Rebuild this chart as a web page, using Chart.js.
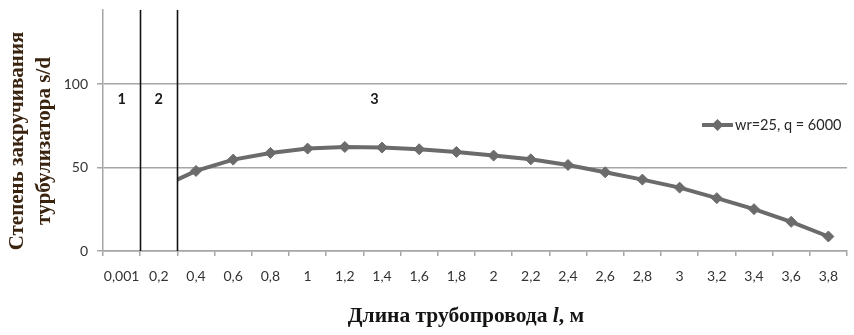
<!DOCTYPE html>
<html>
<head>
<meta charset="utf-8">
<script src="https://cdn.jsdelivr.net/npm/chart.js@4/dist/chart.umd.min.js"></script>
<style>
html,body{margin:0;padding:0;background:#fff;}
#wrap{width:854px;height:335px;position:relative;}
</style>
</head>
<body>
<div id="wrap"><canvas id="c" width="854" height="335"></canvas></div>
<script>
// ---- data ----
const categories = ['0,001','0,2','0,4','0,6','0,8','1','1,2','1,4','1,6','1,8','2','2,2','2,4','2,6','2,8','3','3,2','3,4','3,6','3,8'];
const seriesLabel = 'wr=25, q = 6000';
// value at 0,2 is hidden behind region boundary (only its segment beyond the boundary is visible)
const seriesValues = [null, 37.6, 48.0, 54.8, 58.8, 61.4, 62.4, 62.0, 61.0, 59.4, 57.2, 55.0, 51.6, 47.2, 42.8, 38.0, 31.7, 25.1, 17.5, 8.7];
const hiddenPoints = [0, 1];
const yTicks = [0, 50, 100];
const yMax = 144.5;
const regionBoundaries = [0.5, 1.5];
const regionLabels = ['1', '2', '3'];
const regionLabelX = [0, 1, 6.8];
const regionLabelY = 91;
const yTitleLines = ['Степень закручивания', 'турбулизатора s/d'];
const xTitleParts = [['Длина трубопровода ', 'bold'], ['l', 'italic bold'], [', м', 'bold']];

const GRAY = '#a6a6a6';
const LINE = '#6b6b6b';

const overlay = {
  id: 'overlay',
  beforeDatasetsDraw(chart) {
    const {ctx, chartArea, scales} = chart;
    const xb = scales.x.getPixelForValue(regionBoundaries[regionBoundaries.length - 1]);
    ctx.save();
    ctx.beginPath();
    ctx.rect(xb, chartArea.top - 20, chartArea.right - xb + 20, chartArea.bottom - chartArea.top + 40);
    ctx.clip();
  },
  afterDatasetsDraw(chart) {
    const {ctx, chartArea, scales} = chart;
    ctx.restore();
    // boundaries
    ctx.save();
    ctx.strokeStyle = '#111';
    ctx.lineWidth = 1.6;
    regionBoundaries.forEach(v => {
      const px = Math.round(scales.x.getPixelForValue(v)) + 0.5;
      ctx.beginPath();
      ctx.moveTo(px, chartArea.top);
      ctx.lineTo(px, chartArea.bottom);
      ctx.stroke();
    });
    // region labels
    ctx.fillStyle = '#1a1a1a';
    ctx.font = 'bold 14.5px Lato';
    ctx.textAlign = 'center';
    ctx.textBaseline = 'middle';
    regionLabels.forEach((t, i) => {
      ctx.fillText(t, scales.x.getPixelForValue(regionLabelX[i]), scales.y.getPixelForValue(regionLabelY));
    });
    // legend
    const lx = 702, ly = 125;
    ctx.strokeStyle = LINE;
    ctx.lineWidth = 4;
    ctx.beginPath();
    ctx.moveTo(lx, ly);
    ctx.lineTo(lx + 31, ly);
    ctx.stroke();
    ctx.fillStyle = LINE;
    ctx.beginPath();
    ctx.moveTo(lx + 15.5, ly - 6);
    ctx.lineTo(lx + 21.5, ly);
    ctx.lineTo(lx + 15.5, ly + 6);
    ctx.lineTo(lx + 9.5, ly);
    ctx.closePath();
    ctx.fill();
    ctx.fillStyle = '#262626';
    ctx.font = '14.5px Lato';
    ctx.textAlign = 'left';
    ctx.fillText(seriesLabel, lx + 33, ly);
    // y title
    ctx.save();
    ctx.translate(0, 141);
    ctx.rotate(-Math.PI / 2);
    ctx.fillStyle = '#3a2410';
    ctx.font = 'bold 21px "Liberation Serif"';
    ctx.textAlign = 'center';
    ctx.textBaseline = 'middle';
    ctx.fillText(yTitleLines[0], 0, 18);
    ctx.fillText(yTitleLines[1], 0, 45);
    ctx.restore();
    // x title
    ctx.fillStyle = '#141414';
    ctx.textBaseline = 'middle';
    ctx.textAlign = 'left';
    let total = 0;
    xTitleParts.forEach(([t, f]) => { ctx.font = f + ' 21.5px "Liberation Serif"'; total += ctx.measureText(t).width; });
    let x = 466 - total / 2;
    xTitleParts.forEach(([t, f]) => { ctx.font = f + ' 21.5px "Liberation Serif"'; ctx.fillText(t, x, 316); x += ctx.measureText(t).width; });
    ctx.restore();
  }
};

new Chart(document.getElementById('c'), {
  type: 'line',
  data: {
    labels: categories,
    datasets: [{
      label: seriesLabel,
      data: seriesValues,
      borderColor: LINE,
      backgroundColor: LINE,
      borderWidth: 4,
      pointStyle: 'rectRot',
      pointRadius: seriesValues.map((v, i) => hiddenPoints.includes(i) ? 0 : 5.5),
      pointBackgroundColor: LINE,
      pointBorderColor: LINE,
      pointBorderWidth: 1,
      tension: 0,
      spanGaps: false,
      clip: false
    }]
  },
  options: {
    responsive: false,
    animation: false,
    events: [],
    layout: {padding: {top: 10, right: 7, left: 0, bottom: 0}},
    plugins: {legend: {display: false}, tooltip: {enabled: false}},
    scales: {
      x: {
        type: 'category',
        offset: true,
        afterFit(s) { s.height = 84; s.paddingLeft = 0; s.paddingRight = 0; },
        grid: {offset: true, drawOnChartArea: false, drawTicks: true, tickLength: 5, color: GRAY, lineWidth: 1.5},
        border: {display: true, color: GRAY, width: 1.5},
        ticks: {color: '#333', font: {family: 'Lato', size: 14}, maxRotation: 0, autoSkip: false, padding: 12}
      },
      y: {
        min: 0,
        max: yMax,
        afterFit(s) { s.width = 103; s.paddingTop = 0; s.paddingBottom = 0; },
        afterBuildTicks(s) { s.ticks = yTicks.map(v => ({value: v})); },
        grid: {color: GRAY, lineWidth: 1.5, tickLength: 6},
        border: {display: true, color: GRAY, width: 1.5},
        ticks: {color: '#333', font: {family: 'Lato', size: 14}, padding: 9}
      }
    }
  },
  plugins: [overlay]
});
</script>
</body>
</html>
